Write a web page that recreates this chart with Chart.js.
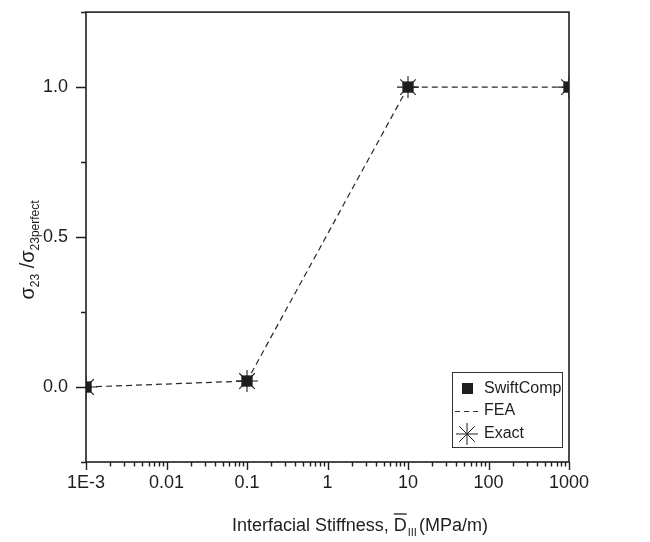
<!DOCTYPE html>
<html>
<head>
<meta charset="utf-8">
<script src="https://cdn.jsdelivr.net/npm/chart.js@4/dist/chart.umd.min.js"></script>
<style>
  html, body { margin: 0; padding: 0; background: #fff; }
  #wrap { width: 650px; height: 542px; }
</style>
</head>
<body>
<div id="wrap"><canvas id="chart" width="650" height="542"></canvas></div>
<script>
const stiffness = [0.001, 0.1, 10, 1000];
const swiftComp = [0, 0.02, 1.0, 1.0];
const fea = [0, 0.02, 1.0, 1.0];
const exact = [0, 0.02, 1.0, 1.0];

const xTickValues = [0.001, 0.01, 0.1, 1, 10, 100, 1000];
const xTickLabels = ['1E-3', '0.01', '0.1', '1', '10', '100', '1000'];
const yTickValues = [0, 0.5, 1.0];
const yTickLabels = ['0.0', '0.5', '1.0'];
const yMinorTicks = [-0.25, 0.25, 0.75, 1.25];

const FONT = '"Liberation Sans", Arial, sans-serif';
const INK = '#1e1e1e';

const toPoints = (ys) => stiffness.map((x, i) => ({ x, y: ys[i] }));

function drawStar(ctx, x, y, r) {
  ctx.beginPath();
  for (let k = 0; k < 4; k += 1) {
    const a = (k * Math.PI) / 4;
    ctx.moveTo(x - Math.cos(a) * r, y - Math.sin(a) * r);
    ctx.lineTo(x + Math.cos(a) * r, y + Math.sin(a) * r);
  }
  ctx.stroke();
}

// no extra room for half tick labels, the plot box is placed by hand
function fixPadding(scale) {
  scale.paddingTop = 0;
  scale.paddingBottom = 0;
  scale.paddingLeft = 0;
  scale.paddingRight = 0;
}

// frame, tick marks, axis titles and the legend box
const decorations = {
  id: 'decorations',
  afterDraw(chart) {
    const { ctx, chartArea: a, scales } = chart;
    const xs = scales.x;
    const ys = scales.y;
    ctx.save();
    ctx.strokeStyle = INK;
    ctx.lineWidth = 1.6;
    ctx.strokeRect(a.left, a.top, a.right - a.left, a.bottom - a.top);

    ctx.lineWidth = 1.4;
    ctx.beginPath();
    // x ticks: decades long, in-between short
    for (let e = -3; e <= 3; e += 1) {
      for (let m = 1; m <= 9; m += 1) {
        const v = m * Math.pow(10, e);
        if (v > 1000) break;
        const px = Math.round(xs.getPixelForValue(v)) + 0.5;
        const len = m === 1 ? 8 : 4.5;
        ctx.moveTo(px, a.bottom);
        ctx.lineTo(px, a.bottom + len);
      }
    }
    yTickValues.forEach((v) => {
      const py = Math.round(ys.getPixelForValue(v)) + 0.5;
      ctx.moveTo(a.left, py);
      ctx.lineTo(a.left - 10, py);
    });
    yMinorTicks.forEach((v) => {
      const py = Math.round(ys.getPixelForValue(v)) + 0.5;
      ctx.moveTo(a.left, py);
      ctx.lineTo(a.left - 5, py);
    });
    ctx.stroke();

    // y title: sigma_23 / sigma_23perfect
    ctx.fillStyle = INK;
    ctx.translate(34, 250);
    ctx.rotate(-Math.PI / 2);
    const parts = [
      ['σ', 20, 0],
      ['23', 12, 5],
      [' /', 20, 0],
      ['σ', 20, 0],
      ['23perfect', 12, 5],
    ];
    let total = 0;
    parts.forEach(([t, s]) => {
      ctx.font = `${s}px ${FONT}`;
      total += ctx.measureText(t).width;
    });
    let cx = -total / 2;
    ctx.textBaseline = 'alphabetic';
    parts.forEach(([t, s, dy]) => {
      ctx.font = `${s}px ${FONT}`;
      ctx.fillText(t, cx, dy);
      cx += ctx.measureText(t).width;
    });
    ctx.setTransform(1, 0, 0, 1, 0, 0);

    // x title with overlined D and subscript III
    let tx = 232;
    const base = 531;
    ctx.font = `18px ${FONT}`;
    ctx.fillText('Interfacial Stiffness, ', tx, base);
    tx += ctx.measureText('Interfacial Stiffness, ').width;
    const dW = ctx.measureText('D').width;
    ctx.fillText('D', tx, base);
    ctx.lineWidth = 1.3;
    ctx.beginPath();
    ctx.moveTo(tx, base - 17);
    ctx.lineTo(tx + dW, base - 17);
    ctx.stroke();
    tx += dW + 1;
    ctx.font = `11px ${FONT}`;
    ctx.fillText('III', tx, base + 5);
    tx += ctx.measureText('III').width + 2;
    ctx.font = `18px ${FONT}`;
    ctx.fillText('(MPa/m)', tx, base);

    // legend
    ctx.lineWidth = 1;
    ctx.strokeStyle = '#333';
    ctx.strokeRect(452.5, 372.5, 110, 75);
    ctx.fillStyle = INK;
    ctx.fillRect(462, 383, 11, 11);
    ctx.setLineDash([5, 4]);
    ctx.beginPath();
    ctx.moveTo(455, 411.5);
    ctx.lineTo(480, 411.5);
    ctx.stroke();
    ctx.setLineDash([]);
    ctx.strokeStyle = INK;
    drawStar(ctx, 467, 434, 11);
    ctx.font = `16px ${FONT}`;
    ctx.textBaseline = 'middle';
    ctx.fillText('SwiftComp', 484, 389);
    ctx.fillText('FEA', 484, 411);
    ctx.fillText('Exact', 484, 434);
    ctx.restore();
  },
};

new Chart(document.getElementById('chart'), {
  type: 'scatter',
  data: {
    datasets: [
      {
        label: 'FEA',
        data: toPoints(fea),
        showLine: true,
        borderColor: '#2a2a2a',
        borderWidth: 1.2,
        borderDash: [6, 4],
        pointRadius: 0,
        clip: 0,
        order: 3,
      },
      {
        label: 'SwiftComp',
        data: toPoints(swiftComp),
        pointStyle: 'rect',
        pointRadius: 8,
        backgroundColor: INK,
        borderColor: INK,
        borderWidth: 0,
        clip: 0,
        order: 2,
      },
      {
        label: 'Exact',
        data: toPoints(exact),
        pointStyle: 'star',
        pointRadius: 11,
        borderColor: INK,
        borderWidth: 1.1,
        backgroundColor: INK,
        clip: 0,
        order: 1,
      },
    ],
  },
  options: {
    responsive: false,
    animation: false,
    layout: { padding: { top: 10, right: 81, left: 0, bottom: 0 } },
    plugins: { legend: { display: false }, tooltip: { enabled: false } },
    scales: {
      x: {
        type: 'logarithmic',
        min: 0.001,
        max: 1000,
        grid: { display: false, drawTicks: false },
        border: { display: false },
        afterBuildTicks: (scale) => {
          scale.ticks = xTickValues.map((value) => ({ value }));
        },
        afterFit: (scale) => {
          scale.height = 80;
          fixPadding(scale);
        },
        ticks: {
          autoSkip: false,
          maxRotation: 0,
          padding: 10,
          color: INK,
          font: { family: FONT, size: 18 },
          callback: (value) => xTickLabels[xTickValues.indexOf(value)] ?? '',
        },
      },
      y: {
        min: -0.25,
        max: 1.25,
        grid: { display: false, drawTicks: false },
        border: { display: false },
        afterBuildTicks: (scale) => {
          scale.ticks = yTickValues.map((value) => ({ value }));
        },
        afterFit: (scale) => {
          scale.width = 86;
          fixPadding(scale);
        },
        ticks: {
          padding: 18,
          color: INK,
          font: { family: FONT, size: 18 },
          callback: (value) => yTickLabels[yTickValues.indexOf(value)] ?? '',
        },
      },
    },
  },
  plugins: [decorations],
});
</script>
</body>
</html>
